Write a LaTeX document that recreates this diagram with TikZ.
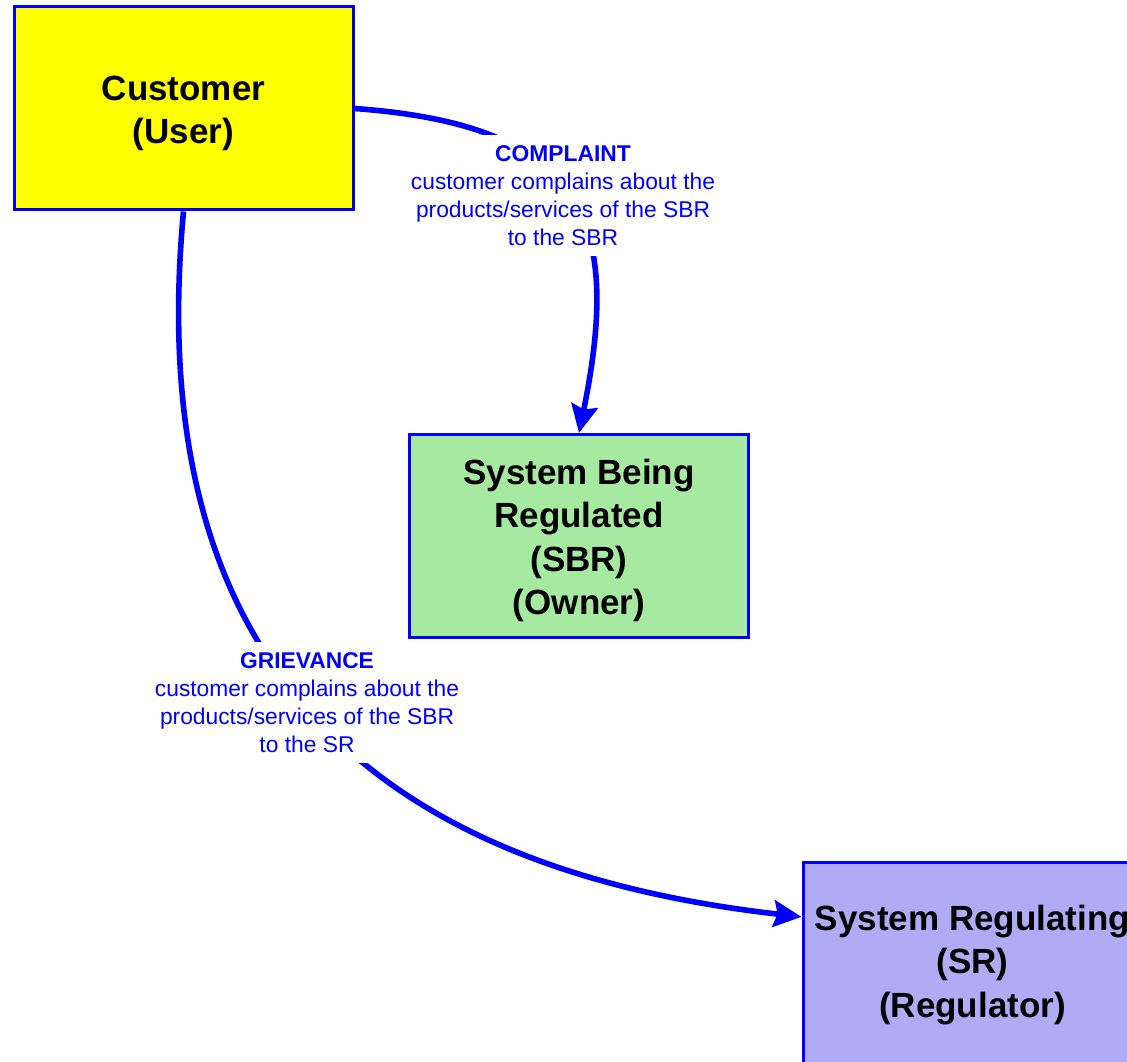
\documentclass[tikz,border=0pt]{standalone}
\usepackage{fontspec}
\setmainfont{Liberation Sans}
\usetikzlibrary{arrows.meta}
\definecolor{boxyellow}{HTML}{FFFF00}
\definecolor{boxgreen}{HTML}{A6E9A0}
\definecolor{boxpurple}{HTML}{AFACF5}
\definecolor{lineblue}{HTML}{0000FF}
\begin{document}
\begin{tikzpicture}[x=0.75pt,y=-0.75pt,
  box/.style={draw=lineblue,line width=2.25pt,minimum width=254.25pt,minimum height=152.25pt,inner sep=0pt,align=center,font=\fontsize{26.25pt}{32.5pt}\selectfont\bfseries},
  flow/.style={draw=lineblue,line width=4.2pt,-{Stealth[length=21pt,width=20pt,inset=3pt]}},
  lbl/.style={fill=white,text=lineblue,align=center,inner xsep=3pt,inner ysep=8pt,font=\fontsize{17.1pt}{21pt}\selectfont}]
\clip (0,0) rectangle (1127,1062);
\node[box,fill=boxyellow] (cust) at (183.5,108.5) {\rule{0pt}{25.5pt}Customer\\(User)};
\node[box,fill=boxgreen] (sbr) at (579,536) {\rule{0pt}{25.5pt}System Being\\Regulated\\(SBR)\\(Owner)};
\node[box,fill=boxpurple] (sr) at (972.5,963.5) {\rule{0pt}{21pt}System Regulating\\(SR)\\(Regulator)};
\coordinate (srin) at ([yshift=35pt]sr.west);
\draw[flow] (cust.east) .. controls (583,125) and (623,218) .. (sbr.north);
\draw[flow] (cust.south) .. controls (140,680) and (390,870) .. (srin);
\node[lbl] (complaint) at (563,195.5) {\textbf{COMPLAINT}\\customer complains about the\\products/services of the SBR\\to the SBR};
\node[lbl] (grievance) at (307,702.5) {\textbf{GRIEVANCE}\\customer complains about the\\products/services of the SBR\\to the SR};
\end{tikzpicture}
\end{document}
